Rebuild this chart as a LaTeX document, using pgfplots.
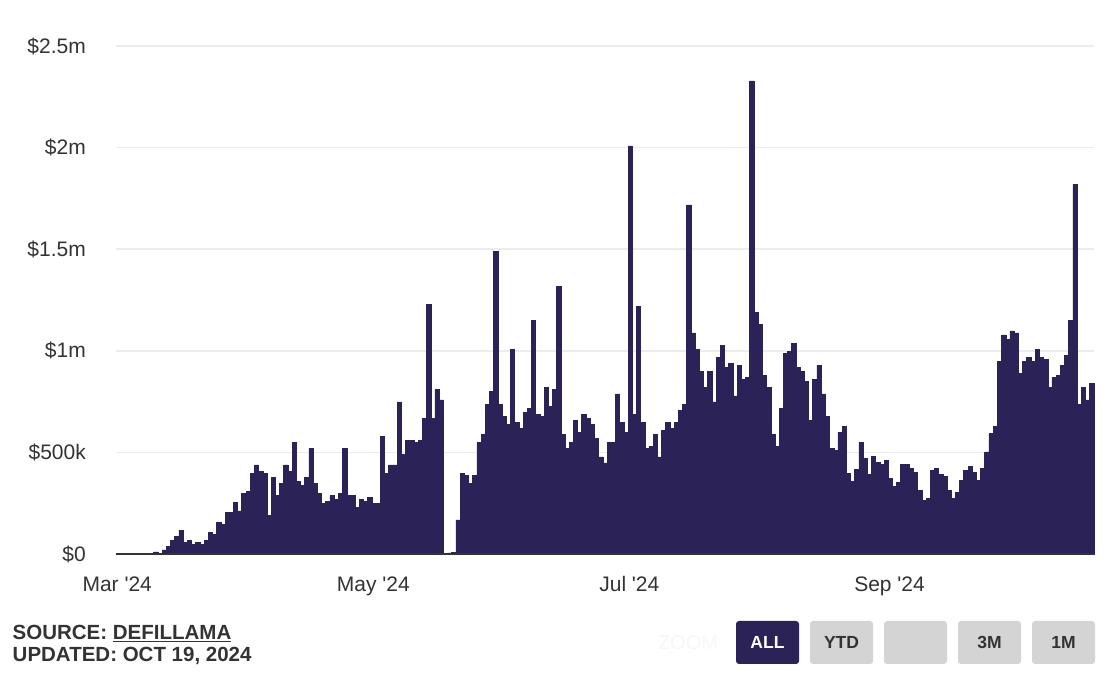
\documentclass[border=0pt]{standalone}
\usepackage{pgfplots}
\pgfplotsset{compat=1.18}
\usepackage{pgfplotstable}
\usepackage{fontspec}
\setmainfont{Liberation Sans}
\definecolor{barc}{RGB}{43,35,88}
\definecolor{txt}{RGB}{51,51,51}
\definecolor{gridc}{RGB}{236,236,236}
\definecolor{btn}{RGB}{212,212,212}
\pgfplotstableread{
x y
0 0
1 0
2 0
3 0
4 0
5 0
6 0
7 0
8 0
9 10
10 2
11 20
12 39
13 68
14 88
15 117
16 59
17 68
18 49
19 59
20 49
21 68
22 107
23 98
24 156
25 147
26 205
27 205
28 252
29 212
30 298
31 308
32 398
33 438
34 408
35 398
36 188
37 378
38 288
39 348
40 438
41 408
42 548
43 358
44 338
45 378
46 518
47 348
48 298
49 248
50 258
51 288
52 268
53 298
54 518
55 288
56 288
57 228
58 268
59 258
60 278
61 248
62 248
63 578
64 398
65 438
66 438
67 748
68 488
69 558
70 558
71 548
72 558
73 668
74 1228
75 668
76 808
77 758
78 0
79 5
80 8
81 168
82 398
83 388
84 348
85 388
86 548
87 588
88 738
89 798
90 1488
91 738
92 678
93 638
94 1008
95 648
96 618
97 698
98 718
99 1148
100 688
101 678
102 818
103 728
104 808
105 1318
106 588
107 518
108 548
109 658
110 598
111 688
112 668
113 638
114 568
115 478
116 448
117 548
118 548
119 788
120 648
121 598
122 2008
123 688
124 1218
125 648
126 518
127 528
128 588
129 478
130 608
131 648
132 618
133 648
134 708
135 738
136 1718
137 1088
138 1008
139 898
140 818
141 898
142 748
143 968
144 1028
145 918
146 938
147 778
148 928
149 858
150 868
151 2328
152 1188
153 1128
154 878
155 818
156 588
157 528
158 718
159 988
160 998
161 1038
162 918
163 900
164 848
165 658
166 858
167 928
168 788
169 678
170 518
171 508
172 598
173 628
174 398
175 358
176 418
177 548
178 470
179 392
180 482
181 452
182 442
183 462
184 372
185 332
186 352
187 442
188 442
189 422
190 402
191 312
192 262
193 272
194 412
195 422
196 392
197 382
198 312
199 272
200 302
201 362
202 412
203 432
204 402
205 362
206 422
207 502
208 592
209 628
210 948
211 1078
212 1058
213 1098
214 1088
215 888
216 948
217 968
218 948
219 1008
220 968
221 958
222 818
223 868
224 878
225 928
226 978
227 1148
228 1818
229 738
230 818
231 758
232 838
}\datatable
\begin{document}
\begin{tikzpicture}[x=1pt,y=1pt]
\path[use as bounding box, fill=white] (0,0) rectangle (1114,684);
\begin{axis}[
  at={(116pt,130pt)}, anchor=south west,
  scale only axis, width=978pt, height=508pt,
  xmin=-0.5, xmax=232.5, ymin=0, ymax=2500,
  axis line style={draw=none},
  major tick length=0pt,
  ytick={0,500,1000,1500,2000,2500},
  yticklabels={\$0,\$500k,\$1m,\$1.5m,\$2m,\$2.5m},
  xtick={-0.2,60.8,121.8,183.8},
  xticklabels={Mar \textquotesingle24,May \textquotesingle24,Jul \textquotesingle24,Sep \textquotesingle24},
  ymajorgrids, grid style={gridc, line width=1.5pt},
  tick label style={font=\fontsize{21}{25}\selectfont, text=txt, inner sep=0pt},
  yticklabel style={anchor=east, xshift=-30pt},
  xticklabel style={anchor=base, yshift=-38pt},
  /pgf/number format/assume math mode=true,
  clip=false,
]
\addplot[ybar, bar width=1.04, fill=barc, draw=barc, line width=0.7pt] table[x=x,y=y] {\datatable};
\draw[txt, line width=2.2pt] (axis cs:-0.5,0) -- (axis cs:232.5,0);
\end{axis}
\node[anchor=base west, inner sep=0pt, text=txt, font=\fontsize{20.5}{24}\selectfont\bfseries] at (12.5,44) {SOURCE: \underline{DEFILLAMA}};
\node[anchor=base west, inner sep=0pt, text=txt, font=\fontsize{20.5}{24}\selectfont\bfseries] at (12.5,22) {UPDATED: OCT 19, 2024};
\node[anchor=base, inner sep=0pt, text=black!3, font=\fontsize{20}{24}\selectfont] at (688,34.5) {ZOOM};
\fill[barc, rounded corners=3pt] (736,20) rectangle (799,63);
\fill[btn, rounded corners=3pt] (810,20) rectangle (873,63);
\fill[btn, rounded corners=3pt] (884,20) rectangle (947,63);
\fill[btn, rounded corners=3pt] (958,20) rectangle (1021,63);
\fill[btn, rounded corners=3pt] (1032,20) rectangle (1095,63);
\begin{scope}[every node/.style={anchor=base, inner sep=0pt, font=\fontsize{17.5}{20}\selectfont\bfseries}]
\node[text=white] at (767.5,35) {ALL};
\node[text=txt] at (841.5,35) {YTD};
\node[text=txt] at (989.5,35) {3M};
\node[text=txt] at (1063.5,35) {1M};
\end{scope}
\end{tikzpicture}
\end{document}
